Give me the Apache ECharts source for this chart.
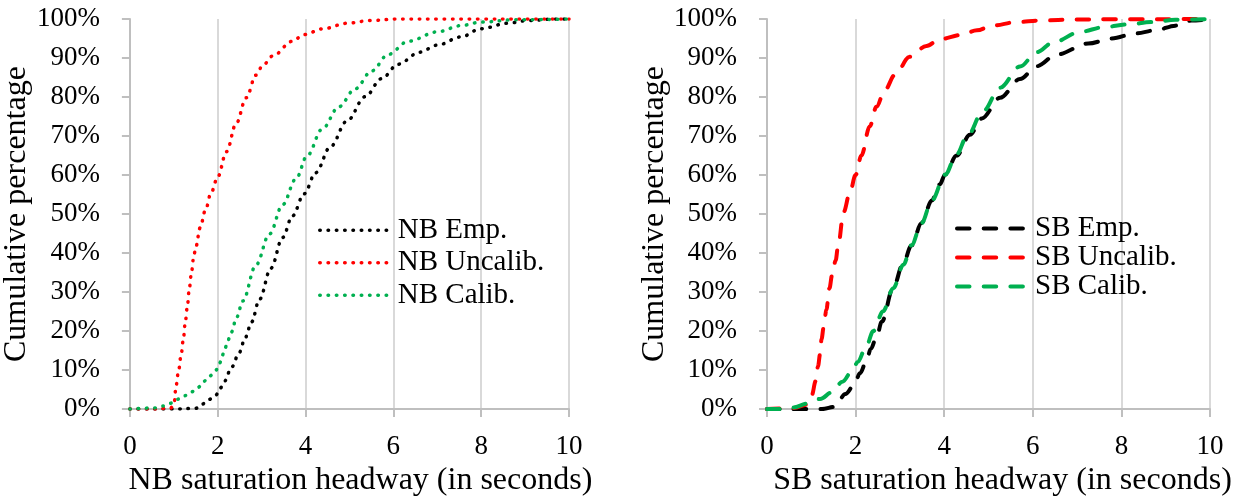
<!DOCTYPE html>
<html>
<head>
<meta charset="utf-8">
<script src="https://cdn.jsdelivr.net/npm/echarts@6/dist/echarts.min.js"></script>
<style>
  html, body { margin: 0; padding: 0; background: #ffffff; }
  #chart { width: 1241px; height: 502px; }
</style>
</head>
<body>
<div id="chart"></div>
<script>
// ---- data (x = headway in seconds, y = cumulative percentage) ----
const xTicks = [0, 2, 4, 6, 8, 10];
const yTicks = [0, 10, 20, 30, 40, 50, 60, 70, 80, 90, 100];

const nbNames = ['NB Emp.', 'NB Uncalib.', 'NB Calib.'];
const sbNames = ['SB Emp.', 'SB Uncalib.', 'SB Calib.'];

const nbEmp = [[0,0],[1.0,0],[1.5,0.2],[1.65,1.3],[1.81,2.5],[1.96,3.6],[2.06,5.4],[2.15,7.1],[2.32,10.8],[2.49,14.5],[2.63,18.4],[2.77,22.3],[2.95,28.1],[3.21,36.1],[3.48,44],[3.7,49.5],[3.97,55.2],[4.23,60.6],[4.57,67.3],[4.94,73.8],[5.36,80.1],[5.73,84.7],[6.11,88.4],[6.6,91.5],[7.0,93.3],[7.54,95.4],[7.99,97.5],[8.6,98.9],[9.06,99.6],[9.69,100],[10,100]];
const nbUncalib = [[0,0],[0.5,0],[0.93,0.25],[1.01,1.7],[1.05,5.9],[1.11,10],[1.17,14.2],[1.22,18.2],[1.26,22.2],[1.31,26.4],[1.35,30.6],[1.4,34.7],[1.45,38.8],[1.5,41.5],[1.6,46.5],[1.72,51],[1.85,55.5],[2.0,59.5],[2.2,66],[2.42,73.2],[2.65,79.8],[2.87,85.6],[3.02,88],[3.25,90.5],[3.7,94.3],[3.96,96],[4.4,97.5],[4.94,98.9],[5.48,99.6],[6.1,100],[10,100]];
const nbCalib = [[0,0],[0.56,0.3],[0.75,0.8],[0.92,1.5],[1.08,2.5],[1.24,3.4],[1.4,4.4],[1.56,5.6],[1.68,7.1],[1.82,8.5],[1.96,10],[2.05,11.9],[2.1,13.7],[2.17,15.7],[2.23,17.6],[2.31,19.7],[2.43,23.5],[2.57,27.7],[2.87,36.9],[3.18,44.9],[3.48,52.4],[3.78,59],[4.04,65],[4.38,71.8],[4.76,77.5],[5.13,82.1],[5.51,86.7],[5.88,90.9],[6.34,94.3],[7.0,96.7],[7.54,98.3],[7.99,99.2],[8.79,99.8],[10,100]];

const sbEmp = [[0,0],[1.24,0],[1.54,0.6],[1.77,3.9],[1.96,6],[2.1,9.2],[2.25,12.5],[2.34,15.4],[2.48,18.7],[2.59,22.4],[2.85,31.1],[3.07,37.2],[3.26,41.9],[3.49,47.7],[3.72,53.5],[3.9,57.6],[4.02,60.1],[4.28,65],[4.58,70.3],[4.85,74.5],[5.26,79.8],[5.71,84.6],[6.09,87.9],[6.54,90.9],[7.25,93.7],[7.78,95],[8.32,96.3],[8.77,97.1],[9.22,98.3],[9.58,99.6],[10,100]];
const sbUncalib = [[0,0],[0.6,0.3],[0.93,1.2],[1.01,3.5],[1.1,7.2],[1.15,10.9],[1.2,14.2],[1.23,17.9],[1.28,21],[1.34,25.5],[1.41,31],[1.47,34.4],[1.55,38.1],[1.6,41.4],[1.73,50.5],[1.87,55.5],[2.0,60],[2.13,65],[2.32,72.5],[2.47,77.5],[2.66,81.8],[2.89,85.7],[3.22,90.3],[3.6,93.1],[3.9,94.8],[4.38,95.9],[4.74,97.1],[5.09,98.3],[5.63,99.2],[6.17,99.6],[6.98,99.9],[10,100]];
const sbCalib = [[0,0],[0.3,0],[0.6,0.4],[0.9,1.4],[1.2,2.6],[1.47,4.3],[1.7,7],[1.92,9.7],[2.05,12.1],[2.23,15.8],[2.4,20],[2.62,25.1],[2.85,31],[3.08,37],[3.26,42],[3.49,47.7],[3.72,53.5],[4.02,60.1],[4.28,65.3],[4.51,69.8],[4.88,76.4],[5.26,82.4],[5.71,87.8],[6.09,91.5],[6.46,94],[7.07,96.7],[7.6,97.9],[8.14,98.6],[8.68,99.2],[9.22,99.8],[10,100]];

const colors = ['#000000', '#ff0000', '#00b050'];
const xTitles = ['NB saturation headway (in seconds)', 'SB saturation headway (in seconds)'];
const yTitle = 'Cumulative percentage';

// ---- styling ----
const FONT = '"Liberation Serif", "Times New Roman", serif';
const AXIS_COLOR = '#bfbfbf';
const GRID_COLOR = '#d9d9d9';
const DOT = [0.5, 7.8];
const DASH = [12.5, 14.2];

function xAxisCfg(idx, nameGap, namePadLeft) {
  return {
    type: 'value', gridIndex: idx,
    min: xTicks[0], max: xTicks[xTicks.length - 1], interval: xTicks[1] - xTicks[0],
    name: xTitles[idx], nameLocation: 'middle', nameGap: nameGap,
    nameTextStyle: { fontFamily: FONT, fontSize: 32, color: '#000', padding: [0, 0, 0, namePadLeft] },
    axisLine: { show: true, lineStyle: { color: AXIS_COLOR, width: 2 } },
    axisTick: { show: true, length: 8, lineStyle: { color: AXIS_COLOR, width: 2 } },
    axisLabel: { fontFamily: FONT, fontSize: 27, color: '#000', margin: 24 },
    splitLine: { show: true, lineStyle: { color: GRID_COLOR, width: 2 } }
  };
}
function yAxisCfg(idx) {
  return {
    type: 'value', gridIndex: idx,
    min: yTicks[0], max: yTicks[yTicks.length - 1], interval: yTicks[1] - yTicks[0],
    name: yTitle, nameLocation: 'middle', nameGap: 94,
    nameTextStyle: { fontFamily: FONT, fontSize: 32, color: '#000' },
    axisLine: { show: true, lineStyle: { color: AXIS_COLOR, width: 2 } },
    axisTick: { show: true, length: 8, lineStyle: { color: AXIS_COLOR, width: 2 } },
    axisLabel: { fontFamily: FONT, fontSize: 27, color: '#000', margin: 30, formatter: v => v + '%' },
    splitLine: { show: false }
  };
}
function lineSeries(name, data, idx, color, dash, width) {
  return {
    type: 'line', name: name, data: data,
    xAxisIndex: idx, yAxisIndex: idx,
    showSymbol: false, symbol: 'circle', symbolSize: 0,
    smooth: 0.35, smoothMonotone: 'x',
    lineStyle: { color: color, width: width, type: dash, cap: 'round', join: 'round' },
    itemStyle: { color: color },
    animation: false
  };
}

const chart = echarts.init(document.getElementById('chart'), null, { renderer: 'canvas' });
chart.setOption({
  animation: false,
  backgroundColor: '#ffffff',
  grid: [
    { left: 126, top: 19, width: 443, height: 398 },
    { left: 767, top: 19, width: 443, height: 403 }
  ],
  xAxis: [xAxisCfg(0, 51, 22), xAxisCfg(1, 47, 28)],
  yAxis: [yAxisCfg(0), yAxisCfg(1)],
  legend: [
    {
      data: nbNames, orient: 'vertical', left: 318, top: 214, padding: 0,
      itemWidth: 70, itemHeight: 12, itemGap: 0,
      textStyle: { fontFamily: FONT, fontSize: 29, color: '#000', lineHeight: 32.5, padding: [0, 0, 0, 3] },
      lineStyle: { width: 3.5, type: 'inherit', cap: 'round' },
      itemStyle: { opacity: 0 },
      selectedMode: false
    },
    {
      data: sbNames, orient: 'vertical', left: 955, top: 214, padding: 0,
      itemWidth: 70, itemHeight: 12, itemGap: 0,
      textStyle: { fontFamily: FONT, fontSize: 29, color: '#000', lineHeight: 28.7, padding: [0, 0, 0, 3] },
      lineStyle: { width: 4, type: 'inherit', cap: 'round' },
      itemStyle: { opacity: 0 },
      selectedMode: false
    }
  ],
  series: [
    lineSeries(nbNames[0], nbEmp, 0, colors[0], DOT, 3.5),
    lineSeries(nbNames[1], nbUncalib, 0, colors[1], DOT, 3.5),
    lineSeries(nbNames[2], nbCalib, 0, colors[2], DOT, 3.5),
    lineSeries(sbNames[0], sbEmp, 1, colors[0], DASH, 4),
    lineSeries(sbNames[1], sbUncalib, 1, colors[1], DASH, 4),
    lineSeries(sbNames[2], sbCalib, 1, colors[2], DASH, 4)
  ]
});
</script>
</body>
</html>
